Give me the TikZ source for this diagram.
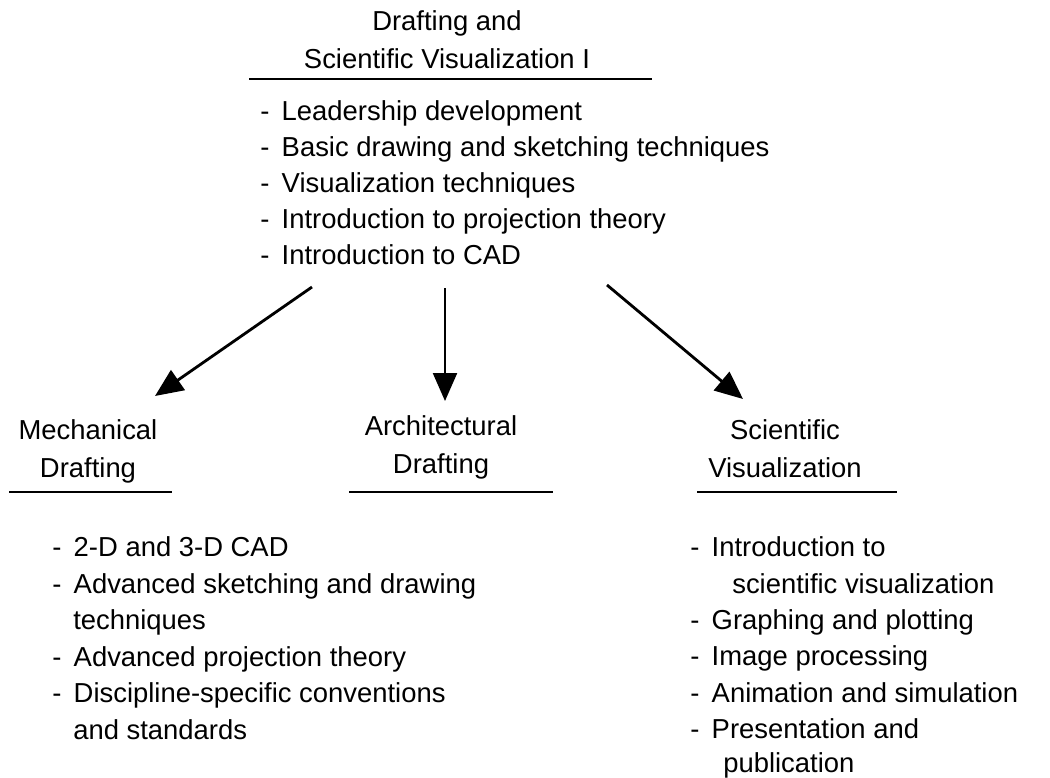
\documentclass[tikz,border=0pt]{standalone}
\usepackage{fontspec}
\setmainfont{Liberation Sans}
\usetikzlibrary{arrows.meta}
\newcommand{\dash}{-\hspace{0.45em}}

\begin{document}
\begin{tikzpicture}[x=0.025cm,y=-0.025cm]
\tikzstyle{heading}=[font=\fontsize{19.5}{26.6}\selectfont,align=center,anchor=north,inner sep=0pt]
\tikzstyle{entry}=[font=\fontsize{19.5}{26.6}\selectfont,anchor=base west,inner sep=0pt]
\tikzstyle{rule}=[line width=1.9pt]
\tikzstyle{branch}=[-{Triangle[length=7mm,width=6mm]},line width=2pt]

\useasboundingbox (0,0) rectangle (1050,777);

% course on top
\node[heading] (core) at (447,10.5) {Drafting and\\Scientific Visualization I};
\draw[rule] (249,79) -- (652,79);
\foreach \t [count=\i] in {Leadership development,Basic drawing and sketching techniques,Visualization techniques,Introduction to projection theory,Introduction to CAD}
  \node[entry] (core\i) at (260,{84+36*\i}) {\dash\t};

% the three options
\node[heading] (mech) at (88,419.5) {Mechanical\\Drafting};
\node[heading] (arch) at (441,415.5) {Architectural\\Drafting};
\node[heading] (sci) at (785,419.5) {Scientific\\Visualization};
\draw[rule] (9,492) -- (172,492);
\draw[rule] (349,492) -- (553,492);
\draw[rule] (697,492) -- (897,492);

\coordinate (fromL) at (312,287);
\coordinate (fromM) at (445,288);
\coordinate (fromR) at (607,285);
\coordinate (toL) at (155,396);
\coordinate (toM) at (445,401);
\coordinate (toR) at (743,399);
\draw[branch] (fromL) -- (toL);
\draw[branch,line width=1.6pt] (fromM) -- (toM);
\draw[branch] (fromR) -- (toR);

% topics
\foreach \x/\y/\t [count=\i] in {52/556/{\dash 2-D and 3-D CAD},52/593/{\dash Advanced sketching and drawing},73/629/{techniques},52/666/{\dash Advanced projection theory},52/702/{\dash Discipline-specific conventions},73/739/{and standards}}
  \node[entry] (mech\i) at (\x,\y) {\t};
\foreach \x/\y/\t [count=\i] in {690/556/{\dash Introduction to},732/593/{scientific visualization},690/629/{\dash Graphing and plotting},690/665/{\dash Image processing},690/702/{\dash Animation and simulation},690/738/{\dash Presentation and},723/772/{publication}}
  \node[entry] (sci\i) at (\x,\y) {\t};
\end{tikzpicture}
\end{document}
